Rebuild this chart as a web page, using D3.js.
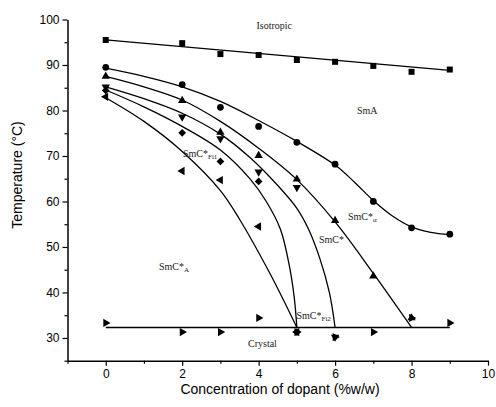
<!DOCTYPE html>
<html>
<head>
<meta charset="utf-8">
<script src="https://cdn.jsdelivr.net/npm/d3@7"></script>
<style>
  body { margin: 0; background: #fff; }
  .tick text { font-family: Arial, "Liberation Sans", sans-serif; font-size: 12px; fill: #000; }
  .phase { font-family: "Liberation Serif", "Times New Roman", serif; font-size: 10px; fill: #222; }
</style>
</head>
<body>
<div id="chart"></div>
<script>
// transition temperatures (x = % w/w dopant)
var isoX = [0, 2, 3, 4, 5, 6, 7, 8, 9];
var isoT = [95.5, 94.8, 92.4, 92.2, 91.1, 90.7, 89.8, 88.5, 89.0];
var smaX = [0, 2, 3, 4, 5, 6, 7, 8, 9];
var smaT = [89.5, 85.7, 80.7, 76.5, 73.0, 68.2, 60.0, 54.2, 52.8];
var upX = [0, 2, 3, 4, 5, 6, 7, 8];
var upT = [87.5, 82.2, 75.2, 70.1, 64.9, 55.8, 43.6, 34.4];
var downX = [0, 2, 3, 4, 5, 6];
var downT = [85.2, 78.6, 73.8, 66.5, 63.1, 30.2];
var diaX = [0, 2, 3, 4, 5];
var diaT = [84.4, 75.1, 68.8, 64.4, 31.3];
var leftX = [0, 2, 3, 4, 5];
var leftT = [83.0, 66.7, 64.7, 54.5, 31.3];
var rightX = [0, 2, 3, 4, 5, 6, 7, 8, 9];
var rightT = [33.3, 31.3, 31.3, 34.4, 31.3, 30.2, 31.3, 34.4, 33.3];

// phase boundary lines as drawn in the figure
var fitIso = [[0, 95.5], [9, 88.8]];
var fitSmA = [[0, 89.3], [1, 87.5], [2, 85.2], [3, 82], [4, 77.8], [5, 73.2], [6, 68.0], [6.5, 64.3], [7, 60.2], [7.5, 56.8], [8, 54.4], [8.5, 53.2], [9, 52.7]];
var fitUp = [[0, 87.5], [1, 85.2], [2, 82.3], [3, 77.6], [4, 71.7], [5, 64.8], [6, 55.5], [7, 44.2], [8, 32.3]];
var fitDown = [[0, 85.2], [1, 82.6], [2, 79.4], [3, 74.8], [3.78, 69.6], [4.5, 63.5], [5, 58.5], [5.3, 54], [5.6, 47.5], [5.85, 40], [6, 32.3]];
var fitDia = [[0, 84.5], [1, 80.8], [2, 76.5], [3, 71.3], [3.78, 64.9], [4.2, 60], [4.57, 53.9], [4.8, 46], [4.93, 39], [5, 32.3]];
var fitLeft = [[0, 82.8], [1, 77.6], [2, 71.0], [3, 62.4], [3.5, 56.1], [4.3, 44.1], [5, 32.3]];
var fitCrystal = [[0, 32.3], [9, 32.3]];

var xTicks = [0, 2, 4, 6, 8, 10];
var xMinor = [-1, 1, 3, 5, 7, 9];
var yTicks = [30, 40, 50, 60, 70, 80, 90, 100];
var yMinor = [25, 35, 45, 55, 65, 75, 85, 95];

var width = 496, height = 407;
var margin = {top: 19.5, right: 8, bottom: 46.3, left: 67.5};

var svg = d3.select("#chart").append("svg")
  .attr("width", width)
  .attr("height", height);

var x = d3.scaleLinear().domain([-1, 10]).range([margin.left, width - margin.right]);
var y = d3.scaleLinear().domain([25, 100]).range([height - margin.bottom, margin.top]);

// axes: minor ticks first, then major with labels
svg.append("g")
  .attr("transform", "translate(0," + y(25) + ")")
  .call(d3.axisBottom(x).tickValues(xMinor).tickSize(3).tickFormat(""))
  .call(function(g) { g.select(".domain").remove(); });
svg.append("g")
  .attr("transform", "translate(" + x(-1) + ",0)")
  .call(d3.axisLeft(y).tickValues(yMinor).tickSize(3).tickFormat(""))
  .call(function(g) { g.select(".domain").remove(); });

var xAxis = svg.append("g")
  .attr("transform", "translate(0," + y(25) + ")")
  .call(d3.axisBottom(x).tickValues(xTicks).tickSize(5).tickSizeOuter(0).tickPadding(4));
var yAxis = svg.append("g")
  .attr("transform", "translate(" + x(-1) + ",0)")
  .call(d3.axisLeft(y).tickValues(yTicks).tickSize(5).tickSizeOuter(0).tickPadding(3));

svg.selectAll(".domain").attr("stroke-width", 1.5);
svg.selectAll(".tick line").attr("stroke-width", 1.2);

svg.append("text")
  .attr("x", (168 + 392) / 2)
  .attr("y", 394)
  .attr("text-anchor", "middle")
  .style("font-family", "Arial, 'Liberation Sans', sans-serif")
  .style("font-size", "14px")
  .text("Concentration of dopant (%w/w)");

svg.append("text")
  .attr("transform", "translate(22,175) rotate(-90)")
  .attr("text-anchor", "middle")
  .style("font-family", "Arial, 'Liberation Sans', sans-serif")
  .style("font-size", "14px")
  .text("Temperature (\u00B0C)");

// boundary curves
var line = d3.line()
  .x(function(d) { return x(d[0]); })
  .y(function(d) { return y(d[1]); })
  .curve(d3.curveCatmullRom.alpha(0.5));

[fitIso, fitSmA, fitUp, fitDown, fitDia, fitLeft, fitCrystal].forEach(function(f) {
  svg.append("path")
    .datum(f)
    .attr("d", line)
    .attr("fill", "none")
    .attr("stroke", "#000")
    .attr("stroke-width", 1.3);
});

// markers
var series = [
  {xs: isoX, ts: isoT, type: d3.symbolSquare, size: 36, rot: 0},
  {xs: smaX, ts: smaT, type: d3.symbolCircle, size: 36, rot: 0},
  {xs: upX, ts: upT, type: d3.symbolTriangle, size: 30, rot: 0},
  {xs: downX, ts: downT, type: d3.symbolTriangle, size: 30, rot: 180},
  {xs: diaX, ts: diaT, type: d3.symbolSquare, size: 30, rot: 45},
  {xs: leftX, ts: leftT, type: d3.symbolTriangle, size: 30, rot: -90},
  {xs: rightX, ts: rightT, type: d3.symbolTriangle, size: 30, rot: 90}
];

series.forEach(function(s) {
  var sym = d3.symbol().type(s.type).size(s.size);
  svg.append("g").selectAll("path")
    .data(s.xs)
    .enter().append("path")
    .attr("d", sym)
    .attr("fill", "#000")
    .attr("transform", function(d, i) {
      return "translate(" + x(d) + "," + y(s.ts[i]) + ") rotate(" + s.rot + ")";
    });
});

// phase labels
function phase(px, py, main, sub) {
  var t = svg.append("text").attr("class", "phase").attr("x", px).attr("y", py);
  t.append("tspan").text(main);
  if (sub) t.append("tspan").attr("dy", 2).style("font-size", "7px").text(sub);
}
phase(256.5, 29, "Isotropic");
phase(357, 114, "SmA");
phase(183, 157, "SmC*", "Fi1");
phase(159, 270, "SmC*", "A");
phase(296.5, 319, "SmC*", "Fi2");
phase(248, 347, "Crystal");
phase(319, 243, "SmC*");
phase(348, 220, "SmC*", "\u03B1");
</script>
</body>
</html>
